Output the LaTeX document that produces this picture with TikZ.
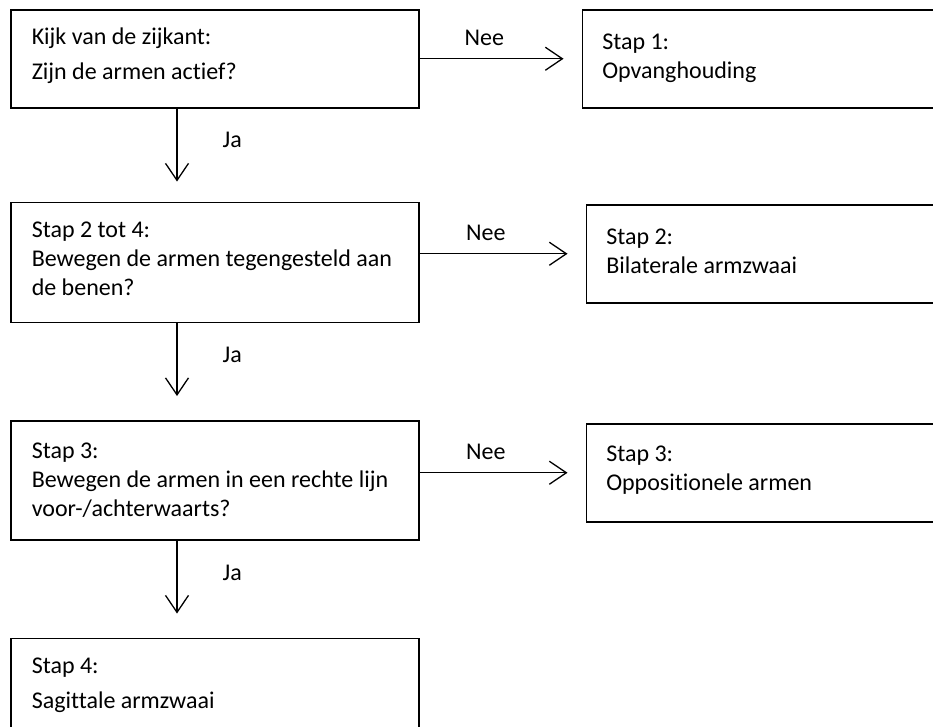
\documentclass[tikz,border=0pt]{standalone}
\usepackage{fontspec}
\setmainfont{Carlito}[Ligatures=NoCommon]
\usepackage{tikz}
\usetikzlibrary{arrows.meta,positioning}

\begin{document}
\begin{tikzpicture}[
  box/.style={draw,line width=1.5pt,align=flush left,text width=366pt,inner xsep=21pt,inner ysep=0pt,
    text height=35pt,text depth=63pt,font=\fontsize{24}{29}\selectfont},
  ubox/.style={box,text width=340pt,inner xsep=20pt,text height=40pt,text depth=58pt},
  arr/.style={-{Straight Barb[length=17pt,width=23pt]},line width=1.3pt},
  lbl/.style={inner sep=2pt,font=\fontsize{24}{29}\selectfont}
]
\useasboundingbox (0,0) rectangle (933pt,-726pt);
\clip (0,0) rectangle (933pt,-726pt);
\node[box,anchor=north west,font=\fontsize{24}{35}\selectfont] (zijkant) at (10pt,-9pt) {Kijk van de zijkant:\\Zijn de armen actief?};
\node[box,text depth=85pt,below=93pt of zijkant] (tegen) {Stap 2 tot 4:\\Bewegen de armen tegengesteld aan\\de benen?};
\node[box,text height=38pt,text depth=81pt,below=97pt of tegen] (recht) {Stap 3:\\Bewegen de armen in een rechte lijn\\voor-/achterwaarts?};
\node[box,font=\fontsize{24}{35}\selectfont,below=97pt of recht] (sagit) {Stap 4:\\Sagittale armzwaai};
\node[ubox,right=162pt of zijkant] (opvang) {Stap 1:\\Opvanghouding};
\node[ubox,right=166pt of tegen,yshift=8.5pt] (bilat) {Stap 2:\\Bilaterale armzwaai};
\node[ubox,text height=38pt,text depth=60pt,right=166pt of recht,yshift=7.5pt] (oppos) {Stap 3:\\Oppositionele armen};
% nee: naar rechts
\draw[arr,shorten >=18pt] (zijkant.east |- opvang.west) -- node[lbl,pos=0.4,above=10pt] {Nee} (opvang.west);
\draw[arr,shorten >=18pt] (tegen.east |- bilat.west) -- node[lbl,pos=0.4,above=10pt] {Nee} (bilat.west);
\draw[arr,shorten >=18pt] (recht.east |- oppos.west) -- node[lbl,pos=0.4,above=10pt] {Nee} (oppos.west);
% ja: naar beneden
\draw[arr,shorten >=20pt] ([xshift=167pt]zijkant.south west) -- node[lbl,pos=0.34,right=43pt] {Ja} ([xshift=167pt]tegen.north west);
\draw[arr,shorten >=24pt] ([xshift=167pt]tegen.south west) -- node[lbl,pos=0.33,right=43pt] {Ja} ([xshift=167pt]recht.north west);
\draw[arr,shorten >=24pt] ([xshift=167pt]recht.south west) -- node[lbl,pos=0.33,right=43pt] {Ja} ([xshift=167pt]sagit.north west);
\end{tikzpicture}
\end{document}
